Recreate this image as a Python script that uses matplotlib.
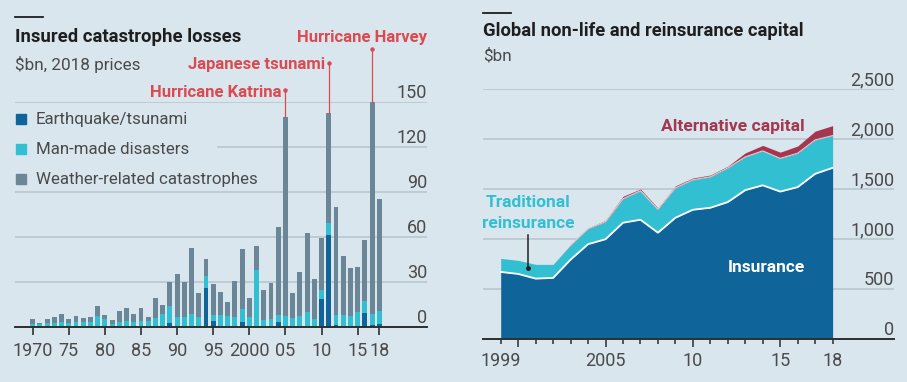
import numpy as np
import matplotlib
matplotlib.use('Agg')
import matplotlib.pyplot as plt
from matplotlib.patches import Rectangle
from matplotlib.transforms import offset_copy

plt.rcParams['font.family'] = ['Roboto', 'DejaVu Sans']

# insured catastrophe losses, $bn 2018 prices
years = list(range(1970, 2019))
earthquake = [0, 0, 0, 0, 0, 0, 0, 0, 0, 0,
              0, 0, 0, 0, 0, 0, 0, 0, 0, 2.5,
              0, 0, 0, 0, 26, 3.5, 0, 0, 0, 3,
              0, 0, 0, 0, 3, 0, 0, 0, 0, 0,
              18.4, 61, 1.3, 0, 0, 0, 9, 1, 1.8]
man_made = [2, 1.5, 2.5, 2.5, 3, 2.5, 3, 3, 3, 7,
            5, 2, 3, 3.5, 3, 4, 3.5, 6, 8.3, 11,
            6.7, 6.7, 8.3, 6.3, 8, 4.4, 7.6, 7.2, 6.3, 9,
            6.3, 37.8, 4.5, 4.9, 5, 7.2, 6, 7.4, 9.9, 4.9,
            6, 8, 6.6, 7.9, 7.4, 10.1, 8.3, 7.3, 9]
weather = [3.4, 1.2, 2.5, 4, 5.4, 2.9, 4.4, 3.1, 3.5, 6.8,
           3, 2.3, 7.4, 9.1, 5.6, 8.2, 2.8, 13.1, 6.1, 16.4,
           28.3, 23.2, 44.1, 16.4, 11.2, 20.6, 15.3, 9, 24.5, 40.1,
           12.8, 15.9, 19.8, 24.3, 58.7, 132.3, 16.2, 29.2, 52.3, 26.6,
           34.7, 73.6, 71.7, 39.3, 31.7, 29.7, 40.5, 141.4, 74.2]
left_ticks = [1970, 1975, 1980, 1985, 1990, 1995, 2000, 2005, 2010, 2015, 2018]
left_ticklabels = ['1970', '75', '80', '85', '90', '95', '2000', '05', '10', '15', '18']
left_yticks = [0, 30, 60, 90, 120, 150]
events = [(2005, 'Hurricane Katrina'), (2011, 'Japanese tsunami'), (2017, 'Hurricane Harvey')]

# global non-life and reinsurance capital, $bn
cap_years = list(range(1999, 2019))
insurance = [667, 647, 600, 607, 790, 945, 995, 1160, 1190, 1060,
             1210, 1290, 1310, 1367, 1487, 1535, 1472, 1517, 1650, 1710]
traditional = [136, 136, 143, 136, 145, 155, 175, 240, 290, 235,
               300, 300, 310, 343, 333, 345, 333, 340, 340, 323]
alternative = [0, 0, 0, 0, 4, 8, 14, 25, 18, 12,
               20, 18, 18, 17, 40, 55, 62, 72, 88, 100]
right_yticks = [0, 500, 1000, 1500, 2000, 2500]
right_labels = {1999: '1999', 2005: '2005', 2010: '10', 2015: '15', 2018: '18'}

BG = '#d9e6ee'
GRID = '#b5c3cc'
AXIS = '#2e2e2e'
TXT = '#1e1e1e'
LBL = '#4a4a4a'
DARK = '#0f6599'
CYAN = '#33bfd2'
GREY = '#6b8696'
RED = '#dc4a50'
WINE = '#a53650'

W, H = 907, 382
fig = plt.figure(figsize=(W / 100, H / 100), dpi=100, facecolor=BG)


def fx(x):
    return x / W


def fy(y):
    return 1 - y / H


# ---------- left panel ----------
ax1 = fig.add_axes([fx(15), fy(326.7), (427 - 15) / W, (326.7 - 101.7) / H])
ax1.set_facecolor(BG)
x0, x1 = 1967.55, 2024.6
ax1.set_xlim(x0, x1)
ax1.set_ylim(0, 150)

eq = np.array(earthquake)
mm = np.array(man_made)
ax1.bar(years, eq, width=0.68, color=DARK, zorder=2)
ax1.bar(years, mm, bottom=eq, width=0.68, color=CYAN, zorder=2)
ax1.bar(years, weather, bottom=eq + mm, width=0.68, color=GREY, zorder=2)

for v in left_yticks[1:]:
    start = 1995.5 if v == 120 else x0
    ax1.hlines(v, start, x1, color=GRID, lw=1.1, zorder=0)
lab_tr = offset_copy(ax1.transData, fig=fig, x=0, y=3.5, units='dots')
for v in left_yticks:
    ax1.text(x1, v, str(v), transform=lab_tr, ha='right', va='baseline',
             fontsize=13, color=LBL)

for s in ['top', 'left', 'right']:
    ax1.spines[s].set_visible(False)
ax1.spines['bottom'].set_color(AXIS)
ax1.spines['bottom'].set_linewidth(1.4)
ax1.set_yticks([])
ax1.set_xticks(left_ticks)
ax1.set_xticklabels(left_ticklabels)
ax1.tick_params(axis='x', length=6, width=1.2, color=AXIS, pad=5,
                labelsize=13, labelcolor=LBL)

# event annotations
totals = eq + mm + np.array(weather)
ev_dot = {2005: 157.8, 2011: 175.7, 2017: 185.3}
for yr, name in events:
    top = totals[years.index(yr)]
    ax1.plot([yr, yr], [top, ev_dot[yr]], color=RED, lw=0.9, clip_on=False, zorder=3)
    ax1.plot(yr, ev_dot[yr], 'o', ms=2.2, color=RED, clip_on=False, zorder=3)
ax1.text(2004.45, 153.4, 'Hurricane Katrina', ha='right', va='baseline',
         fontsize=12, fontweight='bold', color=RED, clip_on=False)
ax1.text(2010.45, 171.6, 'Japanese tsunami', ha='right', va='baseline',
         fontsize=12, fontweight='bold', color=RED, clip_on=False)
ax1.text(2015.6, 190, 'Hurricane Harvey', ha='center', va='baseline',
         fontsize=12, fontweight='bold', color=RED, clip_on=False)

# titles and legend
fig.add_artist(plt.Line2D([fx(15), fx(43)], [fy(17.3), fy(17.3)], color=TXT, lw=1.3))
fig.text(fx(15), fy(42.3), 'Insured catastrophe losses', fontsize=13.3,
         fontweight='bold', color=TXT, va='baseline')
fig.text(fx(15), fy(70), '$bn, 2018 prices', fontsize=12.3, color=LBL, va='baseline')
legend = [('Earthquake/tsunami', DARK, 124), ('Man-made disasters', CYAN, 154),
          ('Weather-related catastrophes', GREY, 184)]
for name, col, base in legend:
    fig.add_artist(Rectangle((fx(16), fy(base - 0.5)), 10 / W, 10 / H,
                             transform=fig.transFigure, color=col))
    fig.text(fx(36), fy(base), name, fontsize=12.2, color=LBL, va='baseline')

# ---------- right panel ----------
ax2 = fig.add_axes([fx(482.7), fy(338.5), (894.3 - 482.7) / W, (338.5 - 89) / H])
ax2.set_facecolor(BG)
r0, r1 = 1997.97, 2021.53
ax2.set_xlim(r0, r1)
ax2.set_ylim(0, 2500)

ins = np.array(insurance)
trad = ins + np.array(traditional)
alt = trad + np.array(alternative)
ax2.fill_between(cap_years, trad, alt, color=WINE, lw=0, zorder=2)
ax2.fill_between(cap_years, ins, trad, color=CYAN, lw=0, zorder=2)
ax2.fill_between(cap_years, 0, ins, color=DARK, lw=0, zorder=2)
ax2.plot(cap_years[4:], trad[4:], color='#e7c9cf', lw=0.8, zorder=3)
ax2.plot(cap_years, ins, color='white', lw=1.3, zorder=3)

for v in right_yticks[1:]:
    ax2.axhline(v, color=GRID, lw=1.1, zorder=0)
lab_tr2 = offset_copy(ax2.transData, fig=fig, x=0, y=3.8, units='dots')
for v in right_yticks:
    ax2.text(r1, v, f'{v:,}', transform=lab_tr2, ha='right', va='baseline',
             fontsize=13, color=LBL)

for s in ['top', 'left', 'right']:
    ax2.spines[s].set_visible(False)
ax2.spines['bottom'].set_color(AXIS)
ax2.spines['bottom'].set_linewidth(1.4)
ax2.spines['bottom'].set_zorder(4)
ax2.set_yticks([])
ax2.set_xticks([2000, 2005, 2010, 2015])
ax2.set_xticklabels([])
ax2.set_xticks(cap_years, minor=True)
ax2.tick_params(axis='x', which='major', length=5.5, width=1.1, color=AXIS)
ax2.tick_params(axis='x', which='minor', length=3.5, width=1.1, color=AXIS)
xl_tr = offset_copy(ax2.transData, fig=fig, x=0, y=-28, units='dots')
for yr, txt in right_labels.items():
    ax2.text(yr, 0, txt, transform=xl_tr, ha='center', va='baseline',
             fontsize=13, color=LBL)

ax2.text(2012.27, 2076, 'Alternative capital', ha='center', va='baseline',
         fontsize=12.6, fontweight='bold', color=WINE)
ax2.text(2000.55, 1322, 'Traditional', ha='center', va='baseline',
         fontsize=12.5, fontweight='bold', color=CYAN)
ax2.text(2000.55, 1106, 'reinsurance', ha='center', va='baseline',
         fontsize=12.5, fontweight='bold', color=CYAN)
ax2.plot([2000.58, 2000.58], [1037, 709], color='#222222', lw=1.1, zorder=4)
ax2.plot(2000.58, 709, 'o', ms=2.5, color='#222222', zorder=4)
ax2.text(2014.19, 664, 'Insurance', ha='center', va='baseline',
         fontsize=12.5, fontweight='bold', color='white', zorder=5)

fig.add_artist(plt.Line2D([fx(482.7), fx(510.7)], [fy(12.7), fy(12.7)], color=TXT, lw=1.3))
fig.text(fx(482.7), fy(36), 'Global non-life and reinsurance capital', fontsize=13.2,
         fontweight='bold', color=TXT, va='baseline')
fig.text(fx(482.7), fy(60), '$bn', fontsize=12.3, color=LBL, va='baseline')

fig.savefig('out.png', dpi=100, facecolor=BG)
